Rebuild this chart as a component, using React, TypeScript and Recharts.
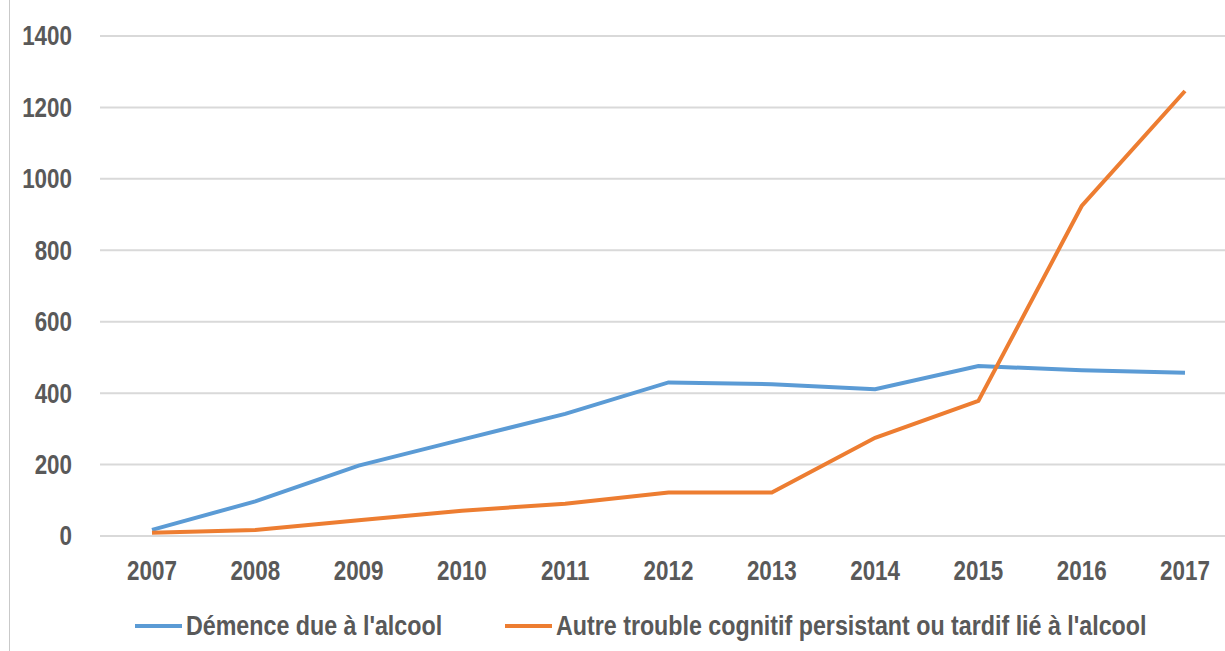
import { LineChart, Line, XAxis, YAxis, CartesianGrid, Legend } from "recharts"

// Years on the x axis
const years = ["2007", "2008", "2009", "2010", "2011", "2012", "2013", "2014", "2015", "2016", "2017"]

// Series values
const demence = [17, 97, 197, 270, 342, 430, 425, 411, 476, 464, 457]
const autre = [9, 17, 44, 71, 90, 122, 122, 275, 378, 924, 1246]

const yTicks = [0, 200, 400, 600, 800, 1000, 1200, 1400]

const seriesNames = {
  demence: "Démence due à l'alcool",
  autre: "Autre trouble cognitif persistant ou tardif lié à l'alcool",
}

const colors = { demence: "#5B9BD5", autre: "#ED7D31" }

const font = "'Liberation Sans', Arial, sans-serif"
const textColor = "#595959"
// the original uses a narrow face, squeeze the regular one
const squeeze = 0.83

const data = years.map((year, i) => ({
  year,
  demence: demence[i],
  autre: autre[i],
}))

function YTick({ x, y, payload }: any) {
  return (
    <g transform={`translate(${x},${y}) scale(${squeeze},1)`}>
      <text x={0} y={0} dy="0.35em" textAnchor="end" fontFamily={font} fontWeight={700} fontSize={27} fill={textColor}>
        {payload.value}
      </text>
    </g>
  )
}

function XTick({ x, y, payload }: any) {
  return (
    <g transform={`translate(${x},${y}) scale(${squeeze},1)`}>
      <text x={0} y={0} dy="0.71em" textAnchor="middle" fontFamily={font} fontWeight={700} fontSize={27} fill={textColor}>
        {payload.value}
      </text>
    </g>
  )
}

function LegendContent() {
  const items = [
    { key: "demence", label: seriesNames.demence, color: colors.demence, left: 135 },
    { key: "autre", label: seriesNames.autre, color: colors.autre, left: 505 },
  ]
  return (
    <div style={{ position: "relative", height: 34 }}>
      {items.map((item) => (
        <div key={item.key} style={{ position: "absolute", left: item.left, top: 0, height: 34, display: "flex", alignItems: "center", whiteSpace: "nowrap" }}>
          <span style={{ display: "inline-block", width: 47, height: 4, background: item.color, marginRight: 4 }} />
          <span
            style={{
              display: "inline-block",
              fontFamily: font,
              fontWeight: 700,
              fontSize: 28,
              color: textColor,
              lineHeight: "34px",
              transform: `scaleX(${squeeze})`,
              transformOrigin: "left center",
            }}
          >
            {item.label}
          </span>
        </div>
      ))}
    </div>
  )
}

export default function App() {
  return (
    <div style={{ position: "absolute", left: 0, top: 0, width: 1225, height: 651, overflow: "hidden", background: "#fff" }}>
      <div style={{ position: "absolute", left: 9, top: 0, width: 1, height: 651, background: "#c9c9c9" }} />
      <LineChart width={1237} height={651} data={data} margin={{ top: 36, right: 0, left: 0, bottom: 8 }}>
        <CartesianGrid vertical={false} stroke="#d9d9d9" strokeWidth={2} />
        <XAxis
          dataKey="year"
          axisLine={false}
          tickLine={false}
          tickSize={0}
          tickMargin={25}
          height={73}
          padding={{ left: 52, right: 52 }}
          interval={0}
          tick={<XTick />}
        />
        <YAxis
          domain={[0, 1400]}
          ticks={yTicks}
          axisLine={false}
          tickLine={false}
          tickSize={0}
          tickMargin={28}
          width={100}
          interval={0}
          tick={<YTick />}
        />
        <Legend verticalAlign="bottom" content={<LegendContent />} wrapperStyle={{ left: 0, width: 1225 }} />
        <Line type="linear" dataKey="demence" name={seriesNames.demence} stroke={colors.demence} strokeWidth={4} dot={false} isAnimationActive={false} />
        <Line type="linear" dataKey="autre" name={seriesNames.autre} stroke={colors.autre} strokeWidth={4} dot={false} isAnimationActive={false} />
      </LineChart>
    </div>
  )
}
